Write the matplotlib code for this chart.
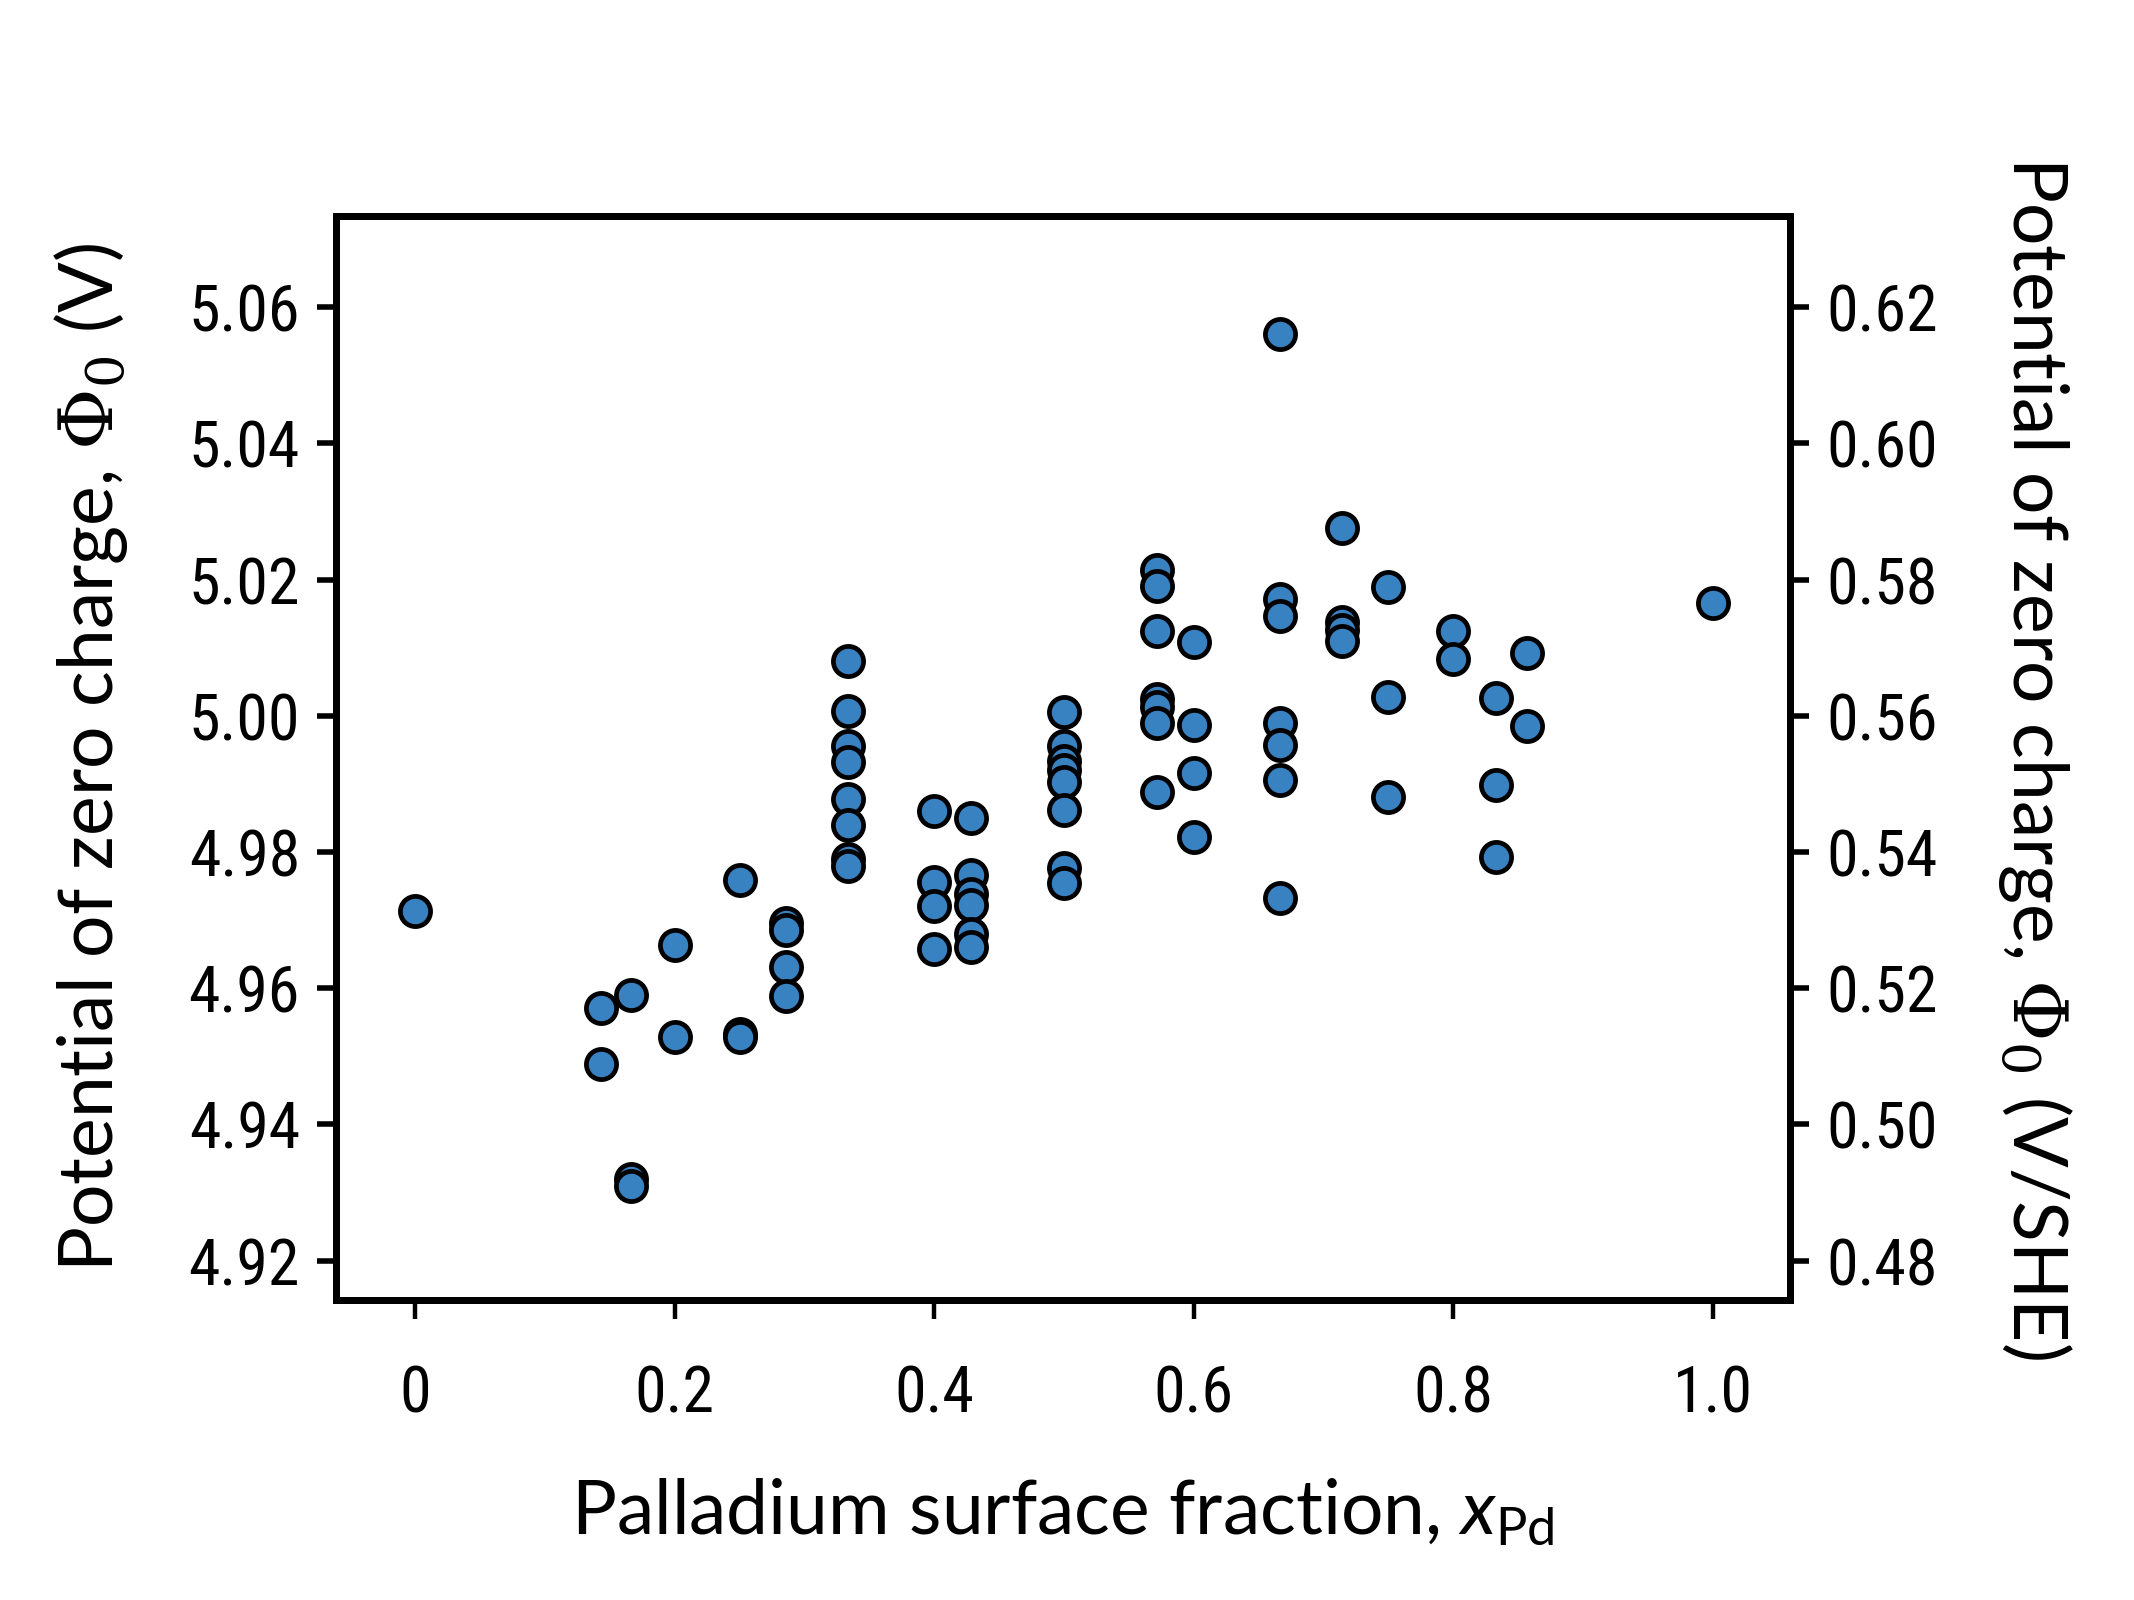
import matplotlib
matplotlib.use("Agg")
import matplotlib.pyplot as plt
from matplotlib import font_manager

# Pd surface fraction for each distinct composition
x_groups = [0.0, 1 / 7, 1 / 6, 0.2, 0.25, 2 / 7, 1 / 3, 0.4, 3 / 7, 0.5,
            4 / 7, 0.6, 2 / 3, 5 / 7, 0.75, 0.8, 5 / 6, 6 / 7, 1.0]

# potential of zero charge (V) for each configuration, grouped by x
pzc_groups = [
    [4.9714],
    [4.9571, 4.9488],
    [4.9590, 4.9320, 4.9310],
    [4.9664, 4.9528],
    [4.9759, 4.9532, 4.9528],
    [4.9696, 4.9685, 4.9631, 4.9588],
    [5.0080, 5.0007, 4.9955, 4.9932, 4.9878, 4.9840, 4.9790, 4.9779],
    [4.9860, 4.9756, 4.9720, 4.9658],
    [4.9850, 4.9766, 4.9738, 4.9722, 4.9680, 4.9660],
    [5.0006, 4.9956, 4.9934, 4.9920, 4.9903, 4.9862, 4.9776, 4.9754],
    [5.0214, 5.0190, 5.0124, 5.0024, 5.0013, 4.9990, 4.9888],
    [5.0108, 4.9986, 4.9916, 4.9822],
    [5.0561, 5.0172, 5.0146, 4.9990, 4.9957, 4.9906, 4.9733],
    [5.0276, 5.0138, 5.0126, 5.0110],
    [5.0189, 5.0028, 4.9881],
    [5.0125, 5.0083],
    [5.0026, 4.9898, 4.9792],
    [5.0092, 4.9985],
    [5.0166],
]

SHE_OFFSET = 4.44  # V, vacuum -> SHE

x_ticks = [0, 0.2, 0.4, 0.6, 0.8, 1.0]
x_ticklabels = ["0", "0.2", "0.4", "0.6", "0.8", "1.0"]
y_ticks = [4.92, 4.94, 4.96, 4.98, 5.00, 5.02, 5.04, 5.06]


def pick_font(names, default="DejaVu Sans"):
    have = {f.name for f in font_manager.fontManager.ttflist}
    for n in names:
        if n in have:
            return n
    return default


tick_font = pick_font(["Liberation Sans Narrow", "Roboto Condensed", "Open Sans"])
label_font = pick_font(["Lato", "Noto Sans"])

plt.rcParams["mathtext.fontset"] = "custom"
plt.rcParams["mathtext.rm"] = "DejaVu Serif"
plt.rcParams["mathtext.it"] = label_font + ":italic"
plt.rcParams["mathtext.sf"] = label_font

xs, ys = [], []
for xv, grp in zip(x_groups, pzc_groups):
    for v in grp:
        xs.append(xv)
        ys.append(v)

fig = plt.figure(figsize=(10.67, 8), dpi=200)
ax = fig.add_axes([0.1575, 0.1875, 0.6815, 0.6775])

ax.scatter(xs, ys, s=118, c="#3882c2", edgecolors="black", linewidths=1.7, zorder=3)

ax.set_xlim(-0.061, 1.06)
ax.set_ylim(4.9142, 5.0734)
ax.set_xticks(x_ticks)
ax.set_xticklabels(x_ticklabels)
ax.set_yticks(y_ticks)
ax.set_yticklabels([f"{v:.2f}" for v in y_ticks])

ax2 = ax.twinx()
lo, hi = ax.get_ylim()
ax2.set_ylim(lo - SHE_OFFSET, hi - SHE_OFFSET)
r_ticks = [round(v - SHE_OFFSET, 2) for v in y_ticks]
ax2.set_yticks(r_ticks)
ax2.set_yticklabels([f"{v:.2f}" for v in r_ticks])

for a in (ax, ax2):
    for sp in a.spines.values():
        sp.set_linewidth(2.5)
    for lab in a.get_xticklabels() + a.get_yticklabels():
        lab.set_fontfamily(tick_font)
        lab.set_fontsize(23)

ax.tick_params(axis="y", direction="out", length=7, width=2, pad=6)
ax.tick_params(axis="x", direction="out", length=7, width=1.6, pad=16)
ax2.tick_params(axis="y", direction="out", length=7, width=2, pad=6)

ax.set_xlabel(r"Palladium surface fraction, $\mathit{x}_{\mathsf{Pd}}$",
              fontfamily=label_font, fontsize=27, labelpad=18)
ax.set_ylabel(r"Potential of zero charge, $\Phi_0$ (V)",
              fontfamily=label_font, fontsize=27, labelpad=21)
ax2.set_ylabel(r"Potential of zero charge, $\Phi_0$ (V/SHE)",
               fontfamily=label_font, fontsize=27, rotation=270, labelpad=49)

fig.savefig("out.png", dpi=200)
plt.close(fig)
